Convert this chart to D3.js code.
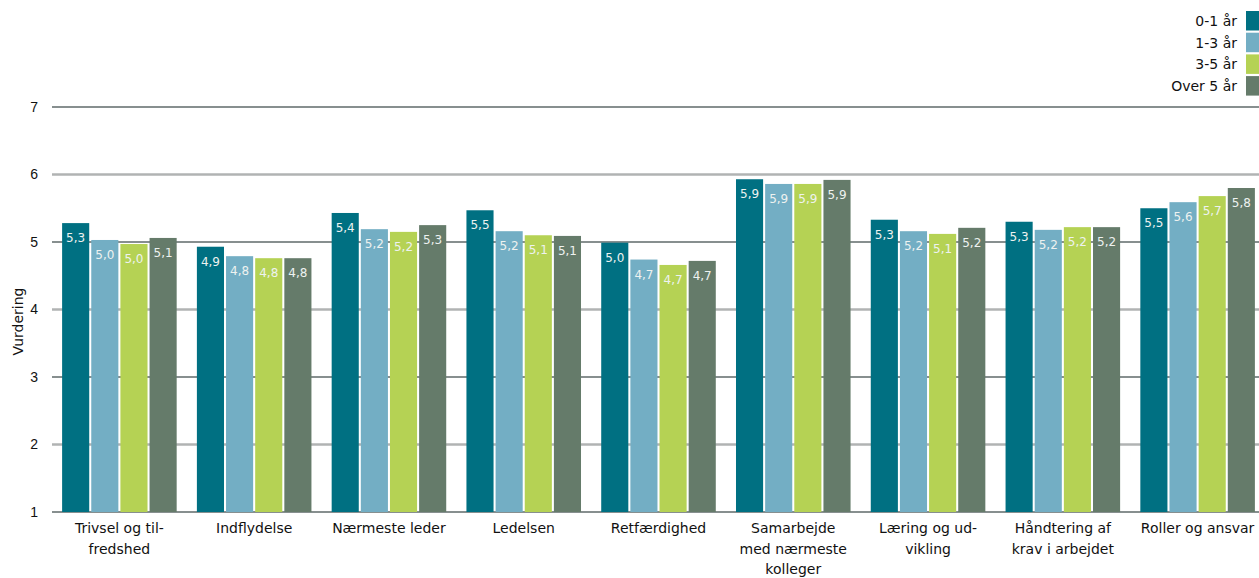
<!DOCTYPE html>
<html>
<head>
<meta charset="utf-8">
<script src="https://cdn.jsdelivr.net/npm/d3@7"></script>
<style>
  body { margin: 0; background: #fff; }
  svg { font-family: "DejaVu Sans", Verdana, sans-serif; }
</style>
</head>
<body>
<svg class="chart"></svg>
<script>
var width = 1259,
    height = 578,
    margin = { top: 107, right: -6, bottom: 66, left: 52 }

var categories = [
    ["Trivsel og til-", "fredshed"],
    ["Indflydelse"],
    ["Nærmeste leder"],
    ["Ledelsen"],
    ["Retfærdighed"],
    ["Samarbejde", "med nærmeste", "kolleger"],
    ["Læring og ud-", "vikling"],
    ["Håndtering af", "krav i arbejdet"],
    ["Roller og ansvar"]
]
var seriesNames = ["0-1 år", "1-3 år", "3-5 år", "Over 5 år"]
var colors = ["#007082", "#73aec4", "#b5d254", "#657b6a"]

var s01 = [5.28, 4.93, 5.43, 5.47, 4.99, 5.93, 5.33, 5.30, 5.50]
var s13 = [5.03, 4.79, 5.19, 5.16, 4.74, 5.86, 5.16, 5.18, 5.59]
var s35 = [4.97, 4.76, 5.15, 5.10, 4.66, 5.86, 5.12, 5.22, 5.68]
var s5p = [5.06, 4.76, 5.25, 5.09, 4.72, 5.92, 5.21, 5.22, 5.80]
var yTicks = [1, 2, 3, 4, 5, 6, 7]

var series = [s01, s13, s35, s5p]

var svg = d3.select(".chart")
    .attr("width", width)
    .attr("height", height)

var x0 = d3.scaleBand()
    .domain(d3.range(categories.length))
    .range([margin.left, width - margin.right])
    .paddingInner(0.15)
    .paddingOuter(0.075)

var x1 = d3.scaleBand()
    .domain(d3.range(seriesNames.length))
    .range([0, x0.bandwidth()])
    .paddingInner(0.07)

var y = d3.scaleLinear()
    .domain([1, 7])
    .range([height - margin.bottom, margin.top])

// gridlines, alternating dark / light
svg.append("g")
    .selectAll("line")
    .data(yTicks)
    .join("line")
    .attr("x1", margin.left)
    .attr("x2", width)
    .attr("y1", d => y(d))
    .attr("y2", d => y(d))
    .attr("stroke", d => d % 2 === 1 ? "#5f6a6a" : "#b1b3b3")
    .attr("stroke-width", d => d % 2 === 1 ? 1.3 : 2.5)

var yAxis = svg.append("g")
    .attr("transform", `translate(${margin.left},0)`)
    .call(d3.axisLeft(y).tickValues(yTicks).tickSize(0).tickPadding(14).tickFormat(d3.format("d")))
yAxis.select(".domain").remove()
yAxis.selectAll("text")
    .style("font-size", "14px")
    .attr("fill", "#111")

svg.append("text")
    .attr("transform", `translate(23,${(y(1) + y(7)) / 2 + 12}) rotate(-90)`)
    .attr("text-anchor", "middle")
    .style("font-size", "14px")
    .attr("fill", "#111")
    .text("Vurdering")

// bars
var groups = svg.append("g")
    .selectAll("g")
    .data(categories)
    .join("g")
    .attr("transform", (d, i) => `translate(${x0(i)},0)`)

groups.selectAll("rect")
    .data((d, i) => series.map((s, j) => ({ j: j, v: s[i] })))
    .join("rect")
    .attr("x", d => x1(d.j))
    .attr("y", d => y(d.v))
    .attr("width", x1.bandwidth())
    .attr("height", d => y(1) - y(d.v))
    .attr("fill", d => colors[d.j])

groups.selectAll("text.val")
    .data((d, i) => series.map((s, j) => ({ j: j, v: s[i] })))
    .join("text")
    .attr("class", "val")
    .attr("x", d => x1(d.j) + x1.bandwidth() / 2)
    .attr("y", d => y(d.v) + 19)
    .attr("text-anchor", "middle")
    .style("font-size", "12px")
    .attr("fill", "#eef2f0")
    .text(d => d3.format(".1f")(d.v).replace(".", ","))

// category labels
var xLabels = svg.append("g")
    .selectAll("text")
    .data(categories)
    .join("text")
    .attr("text-anchor", "middle")
    .attr("x", (d, i) => x0(i) + x0.bandwidth() / 2)
    .attr("y", y(1) + 21)
    .style("font-size", "14px")
    .attr("fill", "#111")

xLabels.selectAll("tspan")
    .data(d => d)
    .join("tspan")
    .attr("x", function () { return this.parentNode.getAttribute("x") })
    .attr("dy", (d, i) => i === 0 ? 0 : 20.5)
    .text(d => d)

// legend
var legend = svg.append("g")
    .selectAll("g")
    .data(seriesNames)
    .join("g")
    .attr("transform", (d, i) => `translate(1246,${11 + i * 21.7})`)

legend.append("rect")
    .attr("width", 14)
    .attr("height", 19.5)
    .attr("fill", (d, i) => colors[i])

legend.append("text")
    .attr("x", -9)
    .attr("y", 15)
    .attr("text-anchor", "end")
    .style("font-size", "14px")
    .attr("fill", "#111")
    .text(d => d)
</script>
</body>
</html>
